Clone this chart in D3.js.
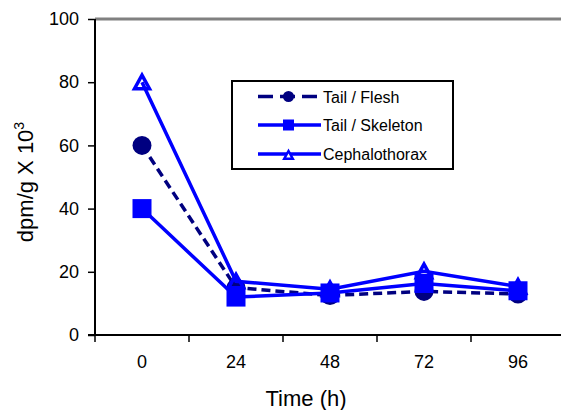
<!DOCTYPE html>
<html><head><meta charset="utf-8">
<script src="https://cdn.jsdelivr.net/npm/d3@7"></script>
<style>body{margin:0;background:#fff}svg{display:block;font-family:"Liberation Sans",Arial,sans-serif}</style>
</head><body><svg id="c" width="561" height="410"></svg>
<script>
const categories = ["0","24","48","72","96"];
const yTicks = [0,20,40,60,80,100];
const tailFlesh = [60,15,12.5,13.8,13];
const tailSkeleton = [40,12,13.3,16.3,14];
const cephalothorax = [80,17,14.5,20.2,15.3];
const seriesNames = ["Tail / Flesh","Tail / Skeleton","Cephalothorax"];

const svg = d3.select("#c");
const x = d3.scaleBand().domain(categories).range([95,565]).padding(0);
const y = d3.scaleLinear().domain([0,100]).range([335,19]);
const cx = c => x(c) + x.bandwidth()/2;

// top border (gray)
svg.append("line").attr("x1",95).attr("x2",561).attr("y1",y(100)).attr("y2",y(100))
  .attr("stroke","#808080").attr("stroke-width",3);

// y axis
const ya = svg.append("g").attr("transform","translate(95,0)")
  .call(d3.axisLeft(y).tickValues(yTicks).tickSize(7).tickPadding(9));
ya.select(".domain").attr("stroke","#000").attr("stroke-width",2).attr("d","M0,"+y(100)+"V"+(y(0)+1));
ya.selectAll(".tick line").attr("stroke","#000").attr("stroke-width",1.5);
ya.selectAll("text").attr("font-size",18).attr("fill","#000").attr("font-family","Liberation Sans, Arial");

// x axis
const xa = svg.append("g").attr("transform","translate(0,"+y(0)+")")
  .call(d3.axisBottom(x).tickSize(0).tickPadding(20));
xa.select(".domain").attr("stroke","#000").attr("stroke-width",2).attr("d","M88,0H565");
xa.selectAll("text").attr("font-size",18).attr("fill","#000").attr("font-family","Liberation Sans, Arial");
// x tick marks at band boundaries
svg.append("g").selectAll("line").data(categories.concat(["end"])).join("line")
  .attr("x1",(d,i)=>x.range()[0]+i*x.bandwidth()).attr("x2",(d,i)=>x.range()[0]+i*x.bandwidth())
  .attr("y1",y(0)).attr("y2",y(0)+7).attr("stroke","#000").attr("stroke-width",1.5);

// titles
svg.append("text").attr("x",306).attr("y",406).attr("text-anchor","middle")
  .attr("font-size",22).text("Time (h)");
const yt = svg.append("text").attr("transform","translate(33,182) rotate(-90)")
  .attr("text-anchor","middle").attr("font-size",22);
yt.append("tspan").text("dpm/g X 10");
yt.append("tspan").attr("font-size",14).attr("dy",-9).text("3");

const line = d3.line().x((d,i)=>cx(categories[i])).y(d=>y(d));
const navy = "#000080", blue = "#0000FF";
const tri = s => `M0,${-s}L${-s*1.07},${s*0.93}L${s*1.07},${s*0.93}Z`;

// Tail / Flesh
svg.append("path").attr("d",line(tailFlesh)).attr("fill","none").attr("stroke",navy)
  .attr("stroke-width",3.5).attr("stroke-dasharray","9,5");
svg.append("g").selectAll("circle").data(tailFlesh).join("circle")
  .attr("cx",(d,i)=>cx(categories[i])).attr("cy",d=>y(d)).attr("r",9.5).attr("fill",navy);

// Tail / Skeleton
svg.append("path").attr("d",line(tailSkeleton)).attr("fill","none").attr("stroke",blue).attr("stroke-width",3.5);
svg.append("g").selectAll("rect").data(tailSkeleton).join("rect")
  .attr("x",(d,i)=>cx(categories[i])-9.5).attr("y",d=>y(d)-9.5).attr("width",19).attr("height",19).attr("fill",blue);

// Cephalothorax
svg.append("path").attr("d",line(cephalothorax)).attr("fill","none").attr("stroke",blue).attr("stroke-width",3.5);
svg.append("g").selectAll("path").data(cephalothorax).join("path")
  .attr("transform",(d,i)=>`translate(${cx(categories[i])},${y(d)})`)
  .attr("d",tri(7)).attr("fill","none").attr("stroke",blue).attr("stroke-width",3.5).attr("stroke-linejoin","miter");

// legend
const lg = svg.append("g");
lg.append("rect").attr("x",232).attr("y",81).attr("width",221).attr("height",88)
  .attr("fill","#fff").attr("stroke","#000").attr("stroke-width",2);
const ly = [96.5,125,154];
seriesNames.forEach((n,i)=>{
  const g = lg.append("g");
  g.append("line").attr("x1",258).attr("x2",321).attr("y1",ly[i]).attr("y2",ly[i])
    .attr("stroke",i===0?navy:blue).attr("stroke-width",3.5)
    .attr("stroke-dasharray",i===0?"15,7":null);
  if(i===0) g.append("circle").attr("cx",288.5).attr("cy",ly[i]).attr("r",5.5).attr("fill",navy);
  if(i===1) g.append("rect").attr("x",283).attr("y",ly[i]-5.5).attr("width",11).attr("height",11).attr("fill",blue);
  if(i===2) g.append("path").attr("transform",`translate(288.5,${ly[i]+1})`).attr("d",tri(4))
     .attr("fill","#fff").attr("stroke",blue).attr("stroke-width",2.5);
  g.append("text").attr("x",323).attr("y",ly[i]+6).attr("font-size",16).text(n);
});
</script></body></html>
